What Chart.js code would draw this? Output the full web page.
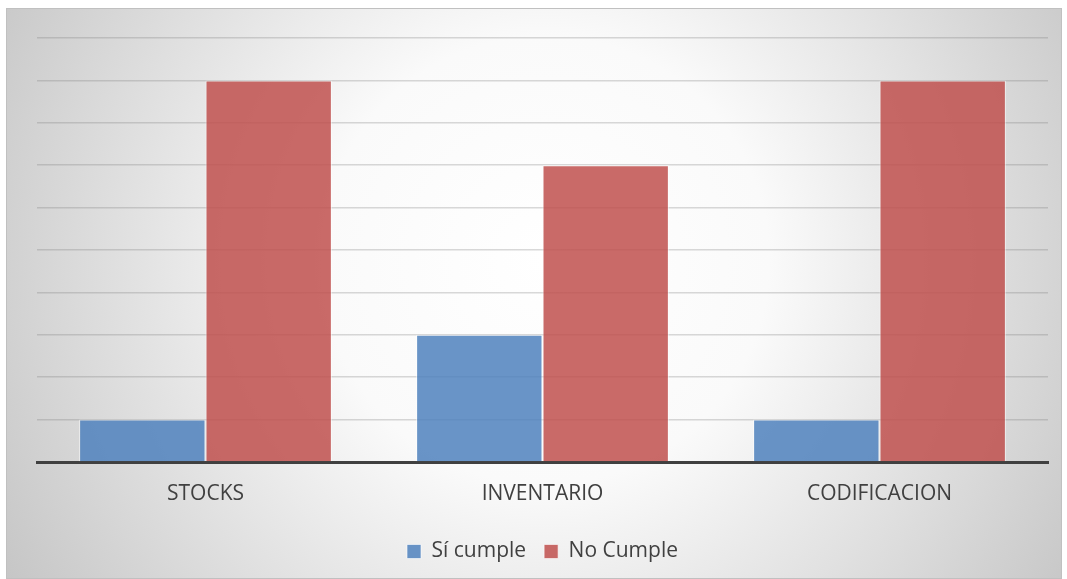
<!DOCTYPE html>
<html><head><meta charset="utf-8">
<script src="https://cdn.jsdelivr.net/npm/chart.js@4/dist/chart.umd.min.js"></script>
<style>html,body{margin:0;padding:0;background:#fff}#w{width:1067px;height:579px}</style>
</head><body><div id="w"><canvas id="c"></canvas></div>
<script>
const categories = ['STOCKS', 'INVENTARIO', 'CODIFICACION'];
const siCumple = [1, 3, 1];
const noCumple = [9, 7, 9];
const seriesNames = ['Sí cumple', 'No Cumple'];

const bgPlugin = {
  id: 'bg',
  beforeDraw(chart) {
    const ctx = chart.ctx;
    const x0 = 6, y0 = 8, x1 = 1062, y1 = 579;
    ctx.save();
    const g = ctx.createRadialGradient(545, 260, 0, 545, 260, 640);
    g.addColorStop(0, '#ffffff');
    g.addColorStop(0.35, '#fafafa');
    g.addColorStop(1, '#c4c4c4');
    ctx.fillStyle = g;
    ctx.fillRect(x0, y0, x1 - x0, y1 - y0);
    ctx.strokeStyle = '#c0c0c0';
    ctx.lineWidth = 1;
    ctx.strokeRect(x0 + 0.5, y0 + 0.5, x1 - x0 - 1, y1 - y0 - 1);
    ctx.restore();
  }
};

new Chart(document.getElementById('c'), {
  type: 'bar',
  data: {
    labels: categories,
    datasets: [
      { label: seriesNames[0], data: siCumple, backgroundColor: 'rgba(79,129,189,0.85)', borderColor: 'rgba(255,255,255,0.6)', borderWidth: 1 },
      { label: seriesNames[1], data: noCumple, backgroundColor: 'rgba(192,80,77,0.85)', borderColor: 'rgba(255,255,255,0.6)', borderWidth: 1 }
    ]
  },
  options: {
    responsive: true,
    maintainAspectRatio: false,
    animation: false,
    devicePixelRatio: 1,
    layout: { padding: { left: 37, right: 19, top: 38, bottom: 7 } },
    datasets: { bar: { categoryPercentage: 0.75, barPercentage: 1.0 } },
    plugins: {
      tooltip: { enabled: false },
      legend: {
        position: 'bottom',
        labels: {
          font: { family: 'Open Sans', size: 21 },
          color: '#404040',
          boxWidth: 14, boxHeight: 14, padding: 18,
          useBorderRadius: false
        }
      }
    },
    scales: {
      x: {
        grid: { display: false, drawTicks: false },
        border: { display: true, color: '#404040', width: 3 },
        ticks: { font: { family: 'Open Sans', size: 21 }, color: '#404040', padding: 19 },
        afterFit(s) { s.height = 61; }
      },
      y: {
        min: 0, max: 10,
        ticks: { display: false, stepSize: 1 },
        grid: { color: 'rgba(120,120,120,0.28)', lineWidth: 1.5, drawTicks: false },
        border: { display: false },
        afterFit(s) { s.width = 0; }
      }
    }
  },
  plugins: [bgPlugin]
});
</script></body></html>
